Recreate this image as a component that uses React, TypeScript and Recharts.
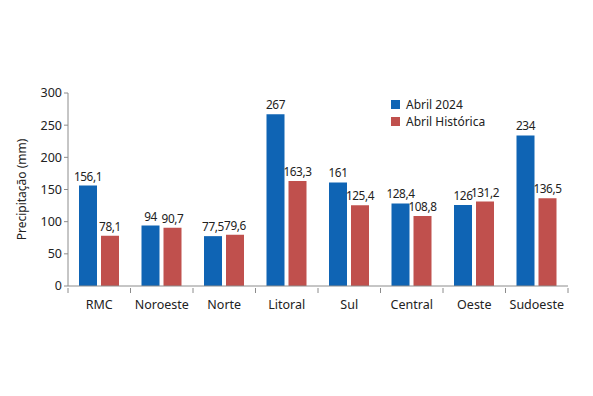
import React from 'react';
import { BarChart, Bar, XAxis, YAxis, LabelList } from 'recharts';

const regioes = ['RMC', 'Noroeste', 'Norte', 'Litoral', 'Sul', 'Central', 'Oeste', 'Sudoeste'];
const abril2024 = [156.1, 94, 77.5, 267, 161, 128.4, 126, 234];
const abrilHistorica = [78.1, 90.7, 79.6, 163.3, 125.4, 108.8, 131.2, 136.5];
const yTicks = [0, 50, 100, 150, 200, 250, 300];

const AZUL = '#0f64b4';
const VERMELHO = '#c0504d';
const EIXO = '#8c8c8c';
const FONTE = '"Noto Sans", "DejaVu Sans", sans-serif';

const data = regioes.map((regiao, i) => ({
  regiao,
  atual: abril2024[i],
  historica: abrilHistorica[i],
}));

const fmt = (v: any) => String(v).replace('.', ',');

// ticks do eixo X entre as categorias, como no Excel
const CategoriaTick = (props: any) => {
  const { x, y, payload, index } = props;
  const band = 500 / regioes.length;
  return (
    <g>
      {index === 0 && <line x1={x - band / 2} y1={y - 8} x2={x - band / 2} y2={y - 3} stroke={EIXO} />}
      <line x1={x + band / 2} y1={y - 8} x2={x + band / 2} y2={y - 3} stroke={EIXO} />
      <text x={x} y={y + 13} textAnchor="middle" fontSize={12.5} fill="#222" fontFamily={FONTE}>
        {payload.value}
      </text>
    </g>
  );
};

const Legenda = () => (
  <div style={{ position: 'absolute', top: 96, left: 391, fontFamily: FONTE, fontSize: 12, color: '#222', lineHeight: '17px' }}>
    <div style={{ display: 'flex', alignItems: 'center' }}>
      <span style={{ width: 9, height: 9, background: AZUL, marginRight: 6, display: 'inline-block' }} />
      Abril 2024
    </div>
    <div style={{ display: 'flex', alignItems: 'center' }}>
      <span style={{ width: 9, height: 9, background: VERMELHO, marginRight: 6, display: 'inline-block' }} />
      Abril Histórica
    </div>
  </div>
);

const labelStyle = { fontSize: 11.8, fill: '#222', fontFamily: FONTE, letterSpacing: -0.4 };

export default function App() {
  return (
    <div style={{ position: 'absolute', left: 0, top: 0, width: 593, height: 396, background: '#fff' }}>
      <BarChart
        width={593}
        height={396}
        data={data}
        margin={{ top: 93, right: 25, bottom: 80, left: 20 }}
        barCategoryGap={11}
        barGap={4}
      >
        <XAxis
          dataKey="regiao"
          stroke={EIXO}
          tickLine={false}
          tick={<CategoriaTick />}
          interval={0}
          tickSize={8}
          height={30}
        />
        <YAxis
          width={48}
          domain={[0, 300]}
          ticks={yTicks}
          interval={0}
          stroke={EIXO}
          tickSize={4}
          tick={{ fontSize: 12.5, fill: '#222', fontFamily: FONTE }}
          label={{
            value: 'Precipitação (mm)',
            angle: -90,
            position: 'insideLeft',
            offset: 2,
            style: { textAnchor: 'middle', fontSize: 12, fill: '#222', fontFamily: FONTE },
          }}
        />
        <Bar dataKey="atual" name="Abril 2024" fill={AZUL} isAnimationActive={false}>
          <LabelList dataKey="atual" position="top" offset={5} formatter={fmt} style={labelStyle} />
        </Bar>
        <Bar dataKey="historica" name="Abril Histórica" fill={VERMELHO} isAnimationActive={false}>
          <LabelList dataKey="historica" position="top" offset={5} formatter={fmt} style={labelStyle} />
        </Bar>
      </BarChart>
      <Legenda />
    </div>
  );
}
